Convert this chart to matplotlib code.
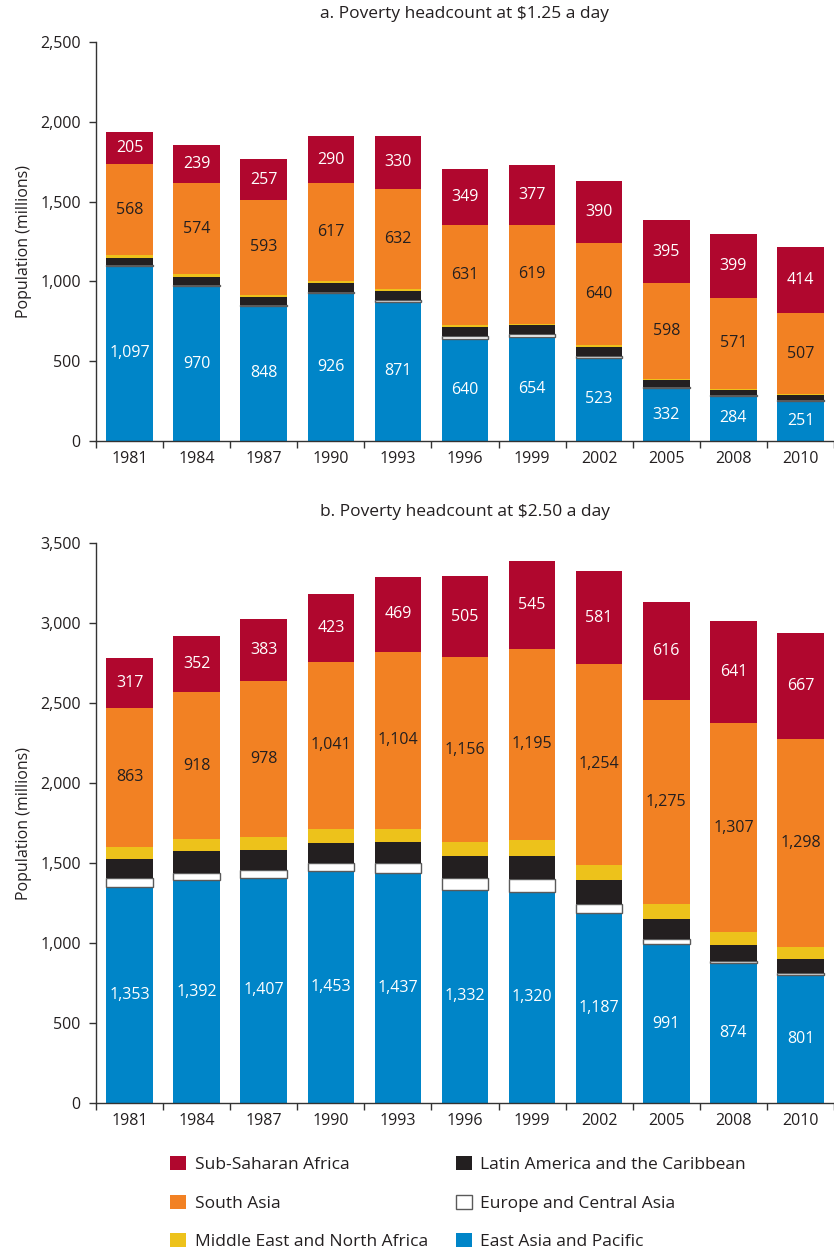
import numpy as np
import matplotlib
matplotlib.use("Agg")
import matplotlib.pyplot as plt
from matplotlib.ticker import FuncFormatter

plt.rcParams['font.family'] = ['Open Sans', 'DejaVu Sans']

years = ['1981', '1984', '1987', '1990', '1993', '1996', '1999', '2002', '2005', '2008', '2010']

# panel a, $1.25 a day (millions)
eap_a = [1097, 970, 848, 926, 871, 640, 654, 523, 332, 284, 251]
eca_a = [8, 7, 6, 9, 14, 18, 18, 10, 6, 2, 3]
lac_a = [43, 52, 49, 53, 53, 54, 55, 57, 43, 33, 32]
mena_a = [17, 15, 13, 13, 12, 12, 9, 9, 9, 9, 8]
sa_a = [568, 574, 593, 617, 632, 631, 619, 640, 598, 571, 507]
ssa_a = [205, 239, 257, 290, 330, 349, 377, 390, 395, 399, 414]

# panel b, $2.50 a day (millions)
eap_b = [1353, 1392, 1407, 1453, 1437, 1332, 1320, 1187, 991, 874, 801]
eca_b = [56, 45, 48, 50, 60, 75, 81, 56, 31, 14, 12]
lac_b = [119, 137, 125, 125, 137, 137, 144, 152, 125, 98, 86]
mena_b = [75, 75, 81, 87, 81, 87, 100, 94, 94, 81, 75]
sa_b = [863, 918, 978, 1041, 1104, 1156, 1195, 1254, 1275, 1307, 1298]
ssa_b = [317, 352, 383, 423, 469, 505, 545, 581, 616, 641, 667]

names = ['East Asia and Pacific', 'Europe and Central Asia', 'Latin America and the Caribbean',
         'Middle East and North Africa', 'South Asia', 'Sub-Saharan Africa']
colors = ['#0085C8', '#FFFFFF', '#231F20', '#EDC21B', '#F28123', '#B0072E']
txtcol = {0: 'white', 4: '#231F20', 5: 'white'}

W, H = 834, 1253
fig = plt.figure(figsize=(W / 100, H / 100), dpi=100)

NUM = 11.5   # numbers (ticks, bar labels)
TXT = 12.5   # titles, legend

def px_axes(left, top, right, bottom):
    return fig.add_axes([left / W, 1 - bottom / H, (right - left) / W, (bottom - top) / H])

def draw(ax, series, ymax, title, title_y):
    x = np.arange(len(years))
    base = np.zeros(len(years))
    handles = []
    for i, vals in enumerate(series):
        vals = np.array(vals, dtype=float)
        if i == 1:
            b = ax.bar(x, vals, 0.695, bottom=base, color=colors[i], edgecolor='#5a5a5a', linewidth=1)
        else:
            b = ax.bar(x, vals, 0.695, bottom=base, color=colors[i], linewidth=0)
        handles.append(b)
        if i in txtcol:
            for xi, v, b0 in zip(x, vals, base):
                ax.text(xi, b0 + v / 2, f'{int(v):,}', ha='center', va='center',
                        color=txtcol[i], fontsize=NUM)
        base += vals
    ax.set_xlim(-0.5, 10.5)
    ax.set_ylim(0, ymax)
    ax.set_yticks(np.arange(0, ymax + 1, 500))
    ax.yaxis.set_major_formatter(FuncFormatter(lambda v, p: f'{int(v):,}'))
    ax.set_xticks(np.arange(-0.5, 10.6, 1))
    ax.set_xticklabels([])
    ax.set_xticks(x, minor=True)
    ax.set_xticklabels(years, minor=True)
    ax.tick_params(axis='x', which='minor', length=0, pad=7, labelsize=NUM, colors='#231F20')
    ax.tick_params(axis='x', which='major', length=5, width=1, color='#333333')
    ax.tick_params(axis='y', length=5, width=1, color='#333333', labelsize=NUM, labelcolor='#231F20', pad=6)
    for s in ['top', 'right']:
        ax.spines[s].set_visible(False)
    for s in ['left', 'bottom']:
        ax.spines[s].set_color('#333333')
        ax.spines[s].set_linewidth(1)
    ax.set_ylabel('Population (millions)', fontsize=11.5, color='#231F20', labelpad=6)
    fig.text(465 / W, 1 - title_y / H, title, ha='center', va='center', fontsize=TXT, color='#231F20')
    return handles

ax1 = px_axes(96, 42, 834, 441)
draw(ax1, [eap_a, eca_a, lac_a, mena_a, sa_a, ssa_a], 2500, 'a. Poverty headcount at $1.25 a day', 14)
ax2 = px_axes(96, 543, 834, 1103)
h = draw(ax2, [eap_b, eca_b, lac_b, mena_b, sa_b, ssa_b], 3500, 'b. Poverty headcount at $2.50 a day', 512)

order = [5, 4, 3, 2, 1, 0]
leg = fig.legend([h[i] for i in order], [names[i] for i in order], ncol=2,
                 loc='upper left', bbox_to_anchor=(170 / W, 1 - 1156 / H),
                 frameon=False, fontsize=TXT, handlelength=0.92, handleheight=0.86,
                 handletextpad=0.5, labelspacing=1.25, columnspacing=1.6,
                 borderaxespad=0, borderpad=0)
for t in leg.get_texts():
    t.set_color('#231F20')

fig.savefig('out.png', dpi=100)
